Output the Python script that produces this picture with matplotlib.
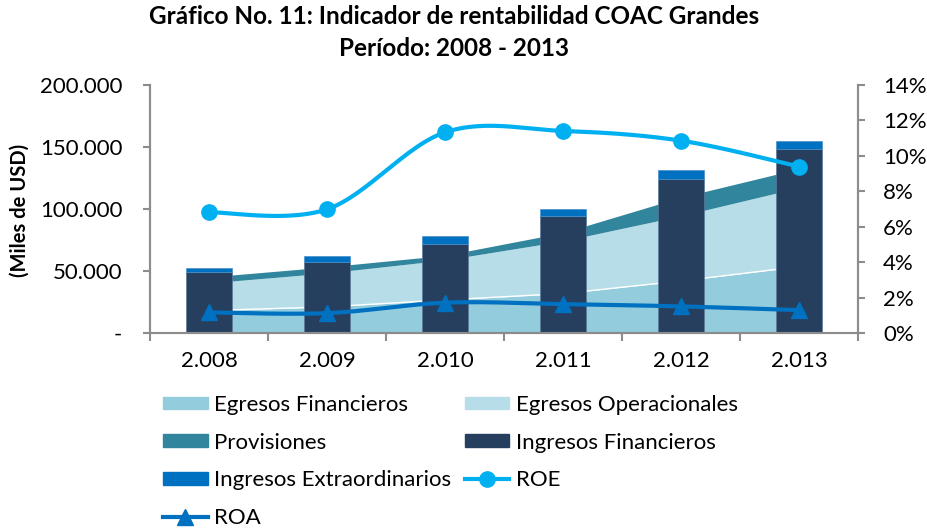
import matplotlib
matplotlib.use("Agg")
import matplotlib.pyplot as plt
import matplotlib.ticker as mticker
from matplotlib.lines import Line2D
from matplotlib.patches import Patch
import numpy as np

plt.rcParams['font.family'] = ['Lato', 'DejaVu Sans']

years = ['2.008', '2.009', '2.010', '2.011', '2.012', '2.013']
egresos_fin = [18200, 21200, 26800, 31900, 42100, 53600]
egresos_op = [22300, 27300, 32200, 42400, 52500, 63700]
provisiones = [4800, 4900, 3700, 6700, 14900, 15200]
ingresos_fin = [49500, 57600, 72100, 94400, 124400, 148300]
ingresos_ext = [2700, 4600, 6200, 5600, 6700, 6700]
roe = [6.82, 6.99, 11.33, 11.41, 10.86, 9.40]
roa = [1.17, 1.13, 1.72, 1.64, 1.51, 1.30]

c_ef = '#93CDDD'
c_eo = '#B7DEE8'
c_pr = '#31859C'
c_if = '#263F5F'
c_ie = '#0070C0'
c_roe = '#00B0F0'
c_roa = '#0070C0'
grey = '#8C8C8C'


def smooth(xs, ys, n=30):
    # Excel-style smoothed line (Catmull-Rom as cubic Bezier)
    xs = np.asarray(xs, float)
    ys = np.asarray(ys, float)
    px, py = [], []
    m = len(xs)
    for i in range(m - 1):
        x0, y0 = (xs[i - 1], ys[i - 1]) if i > 0 else (xs[i], ys[i])
        x3, y3 = (xs[i + 2], ys[i + 2]) if i + 2 < m else (xs[i + 1], ys[i + 1])
        x1, y1 = xs[i], ys[i]
        x2, y2 = xs[i + 1], ys[i + 1]
        c1x, c1y = x1 + (x2 - x0) / 6, y1 + (y2 - y0) / 6
        c2x, c2y = x2 - (x3 - x1) / 6, y2 - (y3 - y1) / 6
        t = np.linspace(0, 1, n)
        bx = (1-t)**3*x1 + 3*(1-t)**2*t*c1x + 3*(1-t)*t**2*c2x + t**3*x2
        by = (1-t)**3*y1 + 3*(1-t)**2*t*c1y + 3*(1-t)*t**2*c2y + t**3*y2
        px.extend(bx)
        py.extend(by)
    return np.array(px), np.array(py)


fig = plt.figure(figsize=(9.27, 5.28), dpi=100)
ax = fig.add_axes([0.1618, 0.369, 0.7638, 0.470])
x = np.arange(len(years))

ef = np.array(egresos_fin)
eo = ef + np.array(egresos_op)
pr = eo + np.array(provisiones)
ax.fill_between(x, 0, ef, color=c_ef, lw=0, zorder=1)
ax.fill_between(x, ef, eo, color=c_eo, lw=0, zorder=1)
ax.fill_between(x, eo, pr, color=c_pr, lw=0, zorder=1)
ax.plot(x, ef, color='white', lw=1, zorder=1.5)

w = 0.39
ax.bar(x, ingresos_fin, w, color=c_if, edgecolor='#5C7A9A', lw=0.5, zorder=2)
ax.bar(x, ingresos_ext, w, bottom=ingresos_fin, color=c_ie, edgecolor='#4A90C8', lw=0.5, zorder=2)

ax.set_xlim(-0.5, len(years) - 0.5)
ax.set_ylim(0, 200000)
ax.set_yticks([0, 50000, 100000, 150000, 200000])
ax.yaxis.set_major_formatter(mticker.FuncFormatter(
    lambda v, p: '-' if v == 0 else f'{int(v):,}'.replace(',', '.')))
ax.set_xticks(x)
ax.set_xticklabels(years)
ax.set_xticks(np.arange(-0.5, len(years)), minor=True)
ax.tick_params(axis='x', which='major', length=0, pad=13, labelsize=16)
ax.tick_params(axis='x', which='minor', length=6, width=1.5, color=grey)
ax.tick_params(axis='y', length=5, width=1.5, color=grey, labelsize=16, pad=15)

ax2 = ax.twinx()
ax2.set_ylim(0, 14)
ax2.set_yticks(np.arange(0, 15, 2))
ax2.yaxis.set_major_formatter(mticker.FuncFormatter(lambda v, p: f'{int(v)}%'))
ax2.tick_params(axis='y', length=5, width=1.5, color=grey, labelsize=16, pad=13)

sx, sy = smooth(x, roe)
ax2.plot(sx, sy, color=c_roe, lw=3, zorder=3)
ax2.plot(x, roe, 'o', color=c_roe, ms=11, zorder=4)
sx, sy = smooth(x, roa)
ax2.plot(sx, sy, color=c_roa, lw=3, zorder=3)
ax2.plot(x, roa, '^', color=c_roa, ms=12, zorder=4)

for a in (ax, ax2):
    a.spines['top'].set_visible(False)
    for s in ('left', 'right', 'bottom'):
        a.spines[s].set_color(grey)
        a.spines[s].set_linewidth(1.5)

fig.text(0.49, 0.99, 'Gráfico No. 11: Indicador de rentabilidad COAC Grandes\nPeríodo: 2008 - 2013',
         ha='center', va='top', fontsize=17.5, fontweight='bold', linespacing=1.45)
fig.text(0.021, 0.602, '(Miles de USD)', rotation=90, ha='center', va='center',
         fontsize=14.5, fontweight='bold')

handles = [
    Patch(color=c_ef, label='Egresos Financieros'),
    Patch(color=c_pr, label='Provisiones'),
    Patch(color=c_ie, label='Ingresos Extraordinarios'),
    Line2D([], [], color=c_roa, lw=3, marker='^', ms=12, label='ROA'),
    Patch(color=c_eo, label='Egresos Operacionales'),
    Patch(color=c_if, label='Ingresos Financieros'),
    Line2D([], [], color=c_roe, lw=3, marker='o', ms=11, label='ROE'),
]
fig.legend(handles=handles, ncol=2, loc='upper left', bbox_to_anchor=(0.176, 0.252),
           frameon=False, fontsize=16, handlelength=2.0, handleheight=0.5,
           handletextpad=0.3, columnspacing=0.6, labelspacing=0.8,
           borderaxespad=0, borderpad=0)

fig.savefig('out.png', dpi=100)
